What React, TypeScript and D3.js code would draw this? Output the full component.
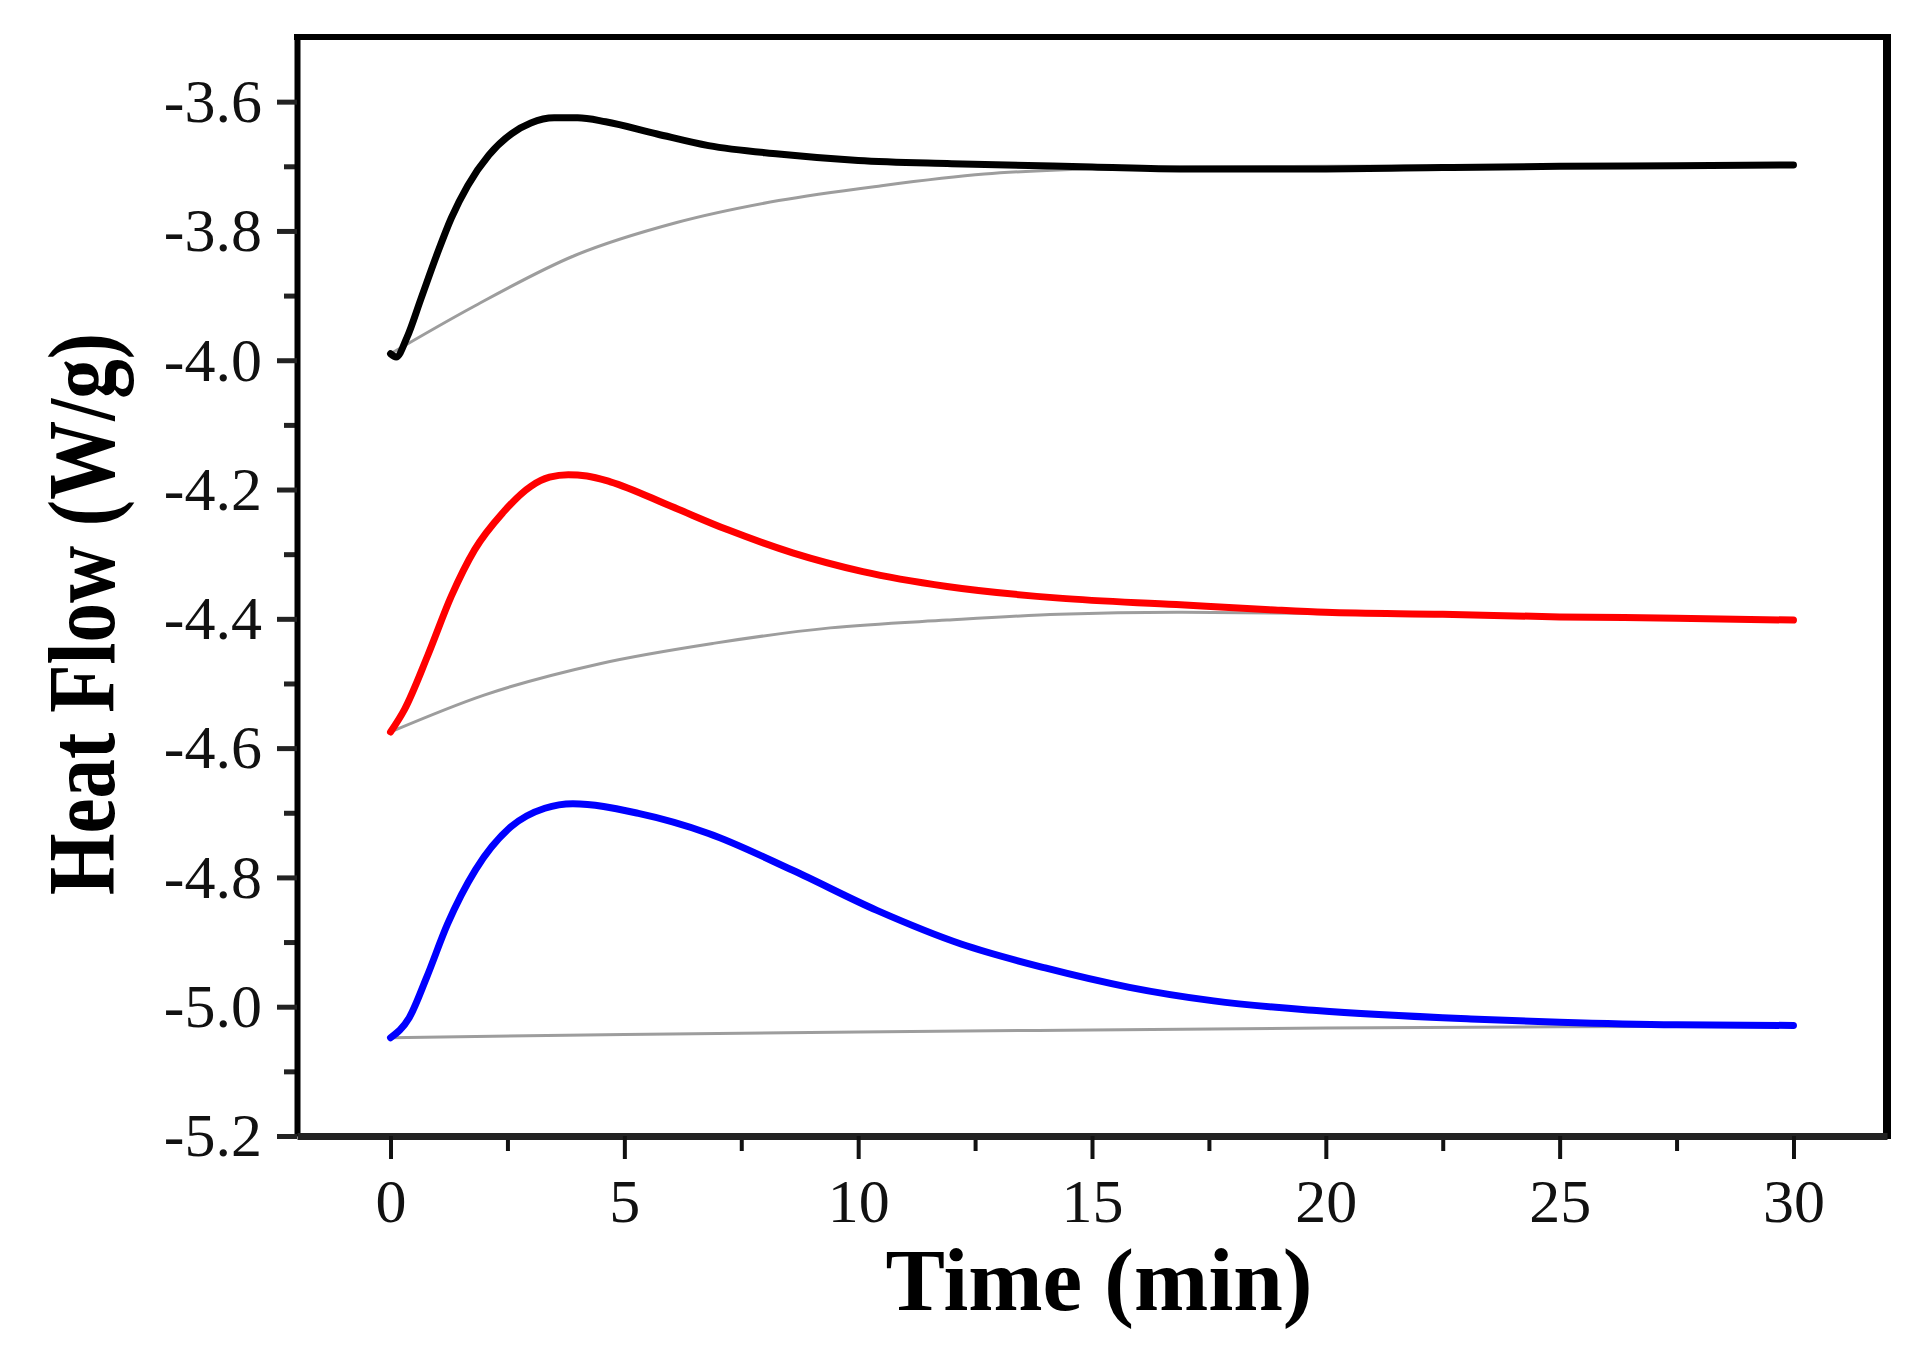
import { useEffect, useRef } from 'react';
import * as d3 from 'd3';

// sample 1 (black) and its baseline
const blackTime = [0, 0.12, 0.35, 0.65, 1.0, 1.3, 1.65, 2.1, 2.6, 3.0, 3.5, 4.0, 4.6, 5.7, 6.8, 8.3, 10, 12, 15, 17, 20, 22.5, 25, 27.5, 30];
const blackFlow = [-3.99, -3.995, -3.965, -3.905, -3.835, -3.78, -3.73, -3.683, -3.649, -3.633, -3.625, -3.625, -3.631, -3.65, -3.668, -3.681, -3.691, -3.696, -3.701, -3.704, -3.704, -3.702, -3.7, -3.699, -3.698];
const blackBaseTime = [0, 1.75, 3.94, 6.12, 8.3, 10.5, 12.7, 14.8, 17, 20, 25, 30];
const blackBaseFlow = [-3.99, -3.918, -3.838, -3.787, -3.753, -3.73, -3.712, -3.704, -3.701, -3.7, -3.699, -3.698];

// sample 2 (red)
const redTime = [0, 0.3, 0.8, 1.3, 1.8, 2.4, 3.0, 3.4, 3.8, 4.2, 4.7, 6.0, 7.2, 8.6, 10.1, 11.9, 14.3, 16.8, 18.8, 20, 22.5, 25, 27.5, 30];
const redFlow = [-4.575, -4.54, -4.456, -4.365, -4.293, -4.236, -4.195, -4.181, -4.177, -4.179, -4.188, -4.226, -4.262, -4.298, -4.327, -4.35, -4.368, -4.378, -4.386, -4.39, -4.393, -4.397, -4.399, -4.402];
const redBaseTime = [0, 2.0, 4.5, 6.9, 9.4, 11.9, 14.3, 16.8, 20, 25, 30];
const redBaseFlow = [-4.575, -4.518, -4.469, -4.438, -4.414, -4.402, -4.393, -4.39, -4.392, -4.397, -4.401];

// sample 3 (blue)
const blueTime = [0, 0.4, 0.77, 1.22, 1.82, 2.57, 3.3, 3.9, 5.3, 6.8, 8.6, 10.4, 12.2, 14.0, 15.8, 17.6, 19.8, 23.1, 25, 27.5, 30];
const blueFlow = [-5.048, -5.017, -4.955, -4.872, -4.788, -4.722, -4.693, -4.686, -4.701, -4.732, -4.789, -4.851, -4.903, -4.94, -4.97, -4.991, -5.006, -5.019, -5.024, -5.028, -5.029];
const blueBaseTime = [0, 5, 10, 15, 20, 25, 30];
const blueBaseFlow = [-5.048, -5.043, -5.039, -5.036, -5.033, -5.031, -5.03];

const xTicks = [0, 5, 10, 15, 20, 25, 30];
const xMinorTicks = [2.5, 7.5, 12.5, 17.5, 22.5, 27.5];
const yTicks = [-3.6, -3.8, -4.0, -4.2, -4.4, -4.6, -4.8, -5.0, -5.2];
const yMinorTicks = [-3.7, -3.9, -4.1, -4.3, -4.5, -4.7, -4.9, -5.1];

const series = [
  { time: blackBaseTime, flow: blackBaseFlow, color: '#9d9d9d', width: 3 },
  { time: redBaseTime, flow: redBaseFlow, color: '#9d9d9d', width: 3 },
  { time: blueBaseTime, flow: blueBaseFlow, color: '#9d9d9d', width: 3 },
  { time: blackTime, flow: blackFlow, color: '#000000', width: 7 },
  { time: redTime, flow: redFlow, color: '#ff0000', width: 7 },
  { time: blueTime, flow: blueFlow, color: '#0000ff', width: 7 },
];

const FONT = "'Liberation Serif', 'Times New Roman', serif";

export default function App() {
  const svgRef = useRef<SVGSVGElement>(null);

  useEffect(() => {
    if (!svgRef.current) return;
    const svg = d3.select(svgRef.current);
    svg.selectAll('*').remove();

    const margin = { top: 37, right: 34, bottom: 228, left: 297 };
    const width = 1921 - margin.left - margin.right;
    const height = 1364 - margin.top - margin.bottom;

    const g = svg.append('g').attr('transform', `translate(${margin.left},${margin.top})`);

    const x = d3.scaleLinear().domain([-2, 32]).range([0, width]);
    const y = d3.scaleLinear().domain([-5.2, -3.5]).range([height, 0]);

    // curves
    const line = d3
      .line<[number, number]>()
      .x((d) => x(d[0]))
      .y((d) => y(d[1]))
      .curve(d3.curveMonotoneX);

    series.forEach((s) => {
      const pts = s.time.map((t, i) => [t, s.flow[i]] as [number, number]);
      g.append('path')
        .datum(pts)
        .attr('fill', 'none')
        .attr('stroke', s.color)
        .attr('stroke-width', s.width)
        .attr('stroke-linejoin', 'round')
        .attr('stroke-linecap', 'round')
        .attr('d', line);
    });

    // frame top / right
    g.append('line')
      .attr('x1', -3).attr('x2', width + 4)
      .attr('y1', 0).attr('y2', 0)
      .attr('stroke', '#000').attr('stroke-width', 6);
    g.append('line')
      .attr('x1', width).attr('x2', width)
      .attr('y1', -3).attr('y2', height + 3)
      .attr('stroke', '#000').attr('stroke-width', 8);

    // minor ticks
    const yMinor = g.append('g').call(
      d3.axisLeft(y).tickValues(yMinorTicks).tickSize(13).tickSizeOuter(0).tickFormat(() => '')
    );
    yMinor.select('.domain').remove();
    yMinor.selectAll('line').attr('stroke', '#222').attr('stroke-width', 5);

    const xMinor = g
      .append('g')
      .attr('transform', `translate(0,${height})`)
      .call(d3.axisBottom(x).tickValues(xMinorTicks).tickSize(15).tickSizeOuter(0).tickFormat(() => ''));
    xMinor.select('.domain').remove();
    xMinor.selectAll('line').attr('stroke', '#111').attr('stroke-width', 4);

    // y axis
    const yAxis = g.append('g').call(
      d3
        .axisLeft(y)
        .tickValues(yTicks)
        .tickSize(20)
        .tickSizeOuter(0)
        .tickPadding(15)
        .tickFormat((d) => (d as number).toFixed(1))
    );
    yAxis.select('.domain').attr('stroke', '#000').attr('stroke-width', 6);
    yAxis.selectAll('line').attr('stroke', '#222').attr('stroke-width', 5);
    yAxis
      .selectAll('text')
      .style('font-family', FONT)
      .style('font-size', '62px')
      .attr('fill', '#111');

    // x axis
    const xAxis = g
      .append('g')
      .attr('transform', `translate(0,${height})`)
      .call(
        d3
          .axisBottom(x)
          .tickValues(xTicks)
          .tickSize(23)
          .tickSizeOuter(0)
          .tickPadding(19)
          .tickFormat((d) => String(d))
      );
    xAxis.select('.domain').attr('stroke', '#222').attr('stroke-width', 7);
    xAxis.selectAll('line').attr('stroke', '#111').attr('stroke-width', 4);
    xAxis
      .selectAll('text')
      .style('font-family', FONT)
      .style('font-size', '62px')
      .attr('fill', '#111');

    // axis titles
    svg
      .append('text')
      .attr('x', 1099)
      .attr('y', 1310)
      .attr('text-anchor', 'middle')
      .attr('textLength', 427)
      .attr('lengthAdjust', 'spacingAndGlyphs')
      .style('font-family', FONT)
      .style('font-size', '88px')
      .style('font-weight', 'bold')
      .text('Time (min)');

    svg
      .append('text')
      .attr('transform', 'translate(114,614) rotate(-90)')
      .attr('text-anchor', 'middle')
      .attr('textLength', 562)
      .attr('lengthAdjust', 'spacingAndGlyphs')
      .style('font-family', FONT)
      .style('font-size', '96px')
      .style('font-weight', 'bold')
      .text('Heat Flow (W/g)');
  }, []);

  return (
    <svg
      ref={svgRef}
      width={1921}
      height={1364}
      style={{ position: 'absolute', left: 0, top: 0, background: '#fff' }}
    />
  );
}
